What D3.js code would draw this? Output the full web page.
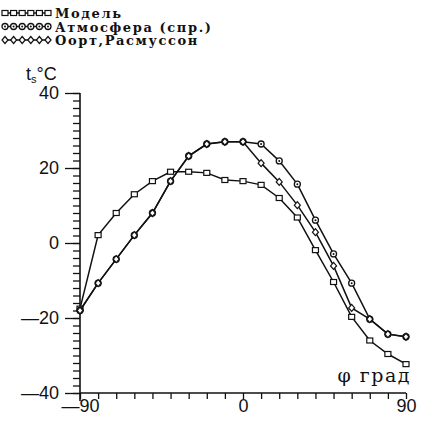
<!DOCTYPE html>
<html>
<meta charset="utf-8">
<style>
body { margin: 0; background: #fff; }
svg { display: block; }
.tick text { font: 18px "Liberation Sans", sans-serif; fill: #111; }
.leg { font: bold 13px "DejaVu Serif", serif; letter-spacing: 1.6px; fill: #111; }
</style>
<body>
<script src="https://cdn.jsdelivr.net/npm/d3@7"></script>
<script>

/* latitude grid, every 10 degrees */
var lats = [-90, -80, -70, -60, -50, -40, -30, -20, -10, 0, 10, 20, 30, 40, 50, 60, 70, 80, 90];

var model = [-17.5, 2.1, 8, 13, 16.5, 19, 19, 18.7, 16.8, 16.5, 15.5, 12, 6.8, -1.9, -10.4, -19.7, -26, -29.6, -32.3];
var atmos = [-18, -10.7, -4.3, 2.1, 8, 16.5, 23.2, 26.4, 27, 27, 26.4, 21.9, 15.7, 6.1, -2.9, -10.7, -20.3, -24.3, -25];
var oort  = [-18, -10.7, -4.3, 2.1, 8, 16.5, 23.2, 26.4, 27, 27, 21.3, 16.3, 10.1, 2.9, -6.1, -17.3, -20.3, -24.3, -25];

var seriesNames = ['Модель', 'Атмосфера (спр.)', 'Оорт,Расмуссон'];
var yMajor = [-40, -20, 0, 20, 40];
var xLabels = [-90, 0, 90];

var width = 422, height = 421;

var svg = d3.select("body").append("svg")
    .attr("width", width)
    .attr("height", height);

var x = d3.scaleLinear().domain([-90, 90]).range([80, 406]);
var y = d3.scaleLinear().domain([-40, 40]).range([393, 93]);

function dash(v) { return v < 0 ? '\u2014' + Math.abs(v) : '' + v; }

// y axis: minor ticks every 2, long ticks with labels
svg.append("g")
    .attr("transform", "translate(80,0)")
    .call(d3.axisLeft(y).tickValues(d3.range(-40, 41, 2)).tickSize(7).tickFormat(""))
    .call(function(g){ g.select(".domain").remove(); });
svg.append("g")
    .attr("transform", "translate(80,0)")
    .call(d3.axisLeft(y).tickValues(yMajor).tickSize(15).tickPadding(6).tickFormat(dash))
    .call(function(g){ g.select(".domain").remove(); });

// x axis: ticks every 10 downward
svg.append("g")
    .attr("transform", "translate(0,393)")
    .call(d3.axisBottom(x).tickValues(lats).tickSize(6).tickFormat(""))
    .call(function(g){ g.select(".domain").remove(); });
svg.append("g")
    .attr("transform", "translate(0,393)")
    .call(d3.axisBottom(x).tickValues(xLabels).tickSize(0).tickPadding(6).tickFormat(dash))
    .call(function(g){ g.select(".domain").remove(); });

svg.selectAll(".tick line").attr("stroke", "#111").attr("stroke-width", 1.3);

// axis lines
svg.append("line").attr("x1", 80).attr("x2", 80).attr("y1", y(40)).attr("y2", y(-40) + 8)
    .attr("stroke", "#111").attr("stroke-width", 1.6);
svg.append("line").attr("x1", 80).attr("x2", x(90)).attr("y1", 393).attr("y2", 393)
    .attr("stroke", "#111").attr("stroke-width", 1.6);

// axis titles
var yt = svg.append("text").attr("x", 26).attr("y", 80)
    .style("font", "18px 'Liberation Sans', sans-serif").attr("fill", "#111");
yt.append("tspan").text("t");
yt.append("tspan").attr("dy", 3).style("font-size", "11px").text("s");
yt.append("tspan").attr("dy", -3).text("°C");

svg.append("text").attr("x", 411).attr("y", 382).attr("text-anchor", "end")
    .style("font", "19px 'DejaVu Serif', serif").style("letter-spacing", "1.5px")
    .attr("fill", "#111")
    .text("φ град");

var line = d3.line()
    .x(function(d){ return x(d[0]); })
    .y(function(d){ return y(d[1]); });

function marker(g, kind, cx, cy) {
    if (kind == 0) {
        g.append("rect").attr("x", cx - 3).attr("y", cy - 2.5).attr("width", 6).attr("height", 5)
            .attr("fill", "#fff").attr("stroke", "#111").attr("stroke-width", 1.2);
    } else if (kind == 1) {
        g.append("circle").attr("cx", cx).attr("cy", cy).attr("r", 3)
            .attr("fill", "#fff").attr("stroke", "#111").attr("stroke-width", 1.3);
        g.append("circle").attr("cx", cx).attr("cy", cy).attr("r", 1).attr("fill", "#111");
    } else {
        g.append("path").attr("d", "M" + cx + "," + (cy - 3.5) + "L" + (cx + 3) + "," + cy +
            "L" + cx + "," + (cy + 3.5) + "L" + (cx - 3) + "," + cy + "Z")
            .attr("fill", "#fff").attr("stroke", "#111").attr("stroke-width", 1.2);
    }
}

var allSeries = [model, atmos, oort];
allSeries.forEach(function(vals, k) {
    var pts = lats.map(function(l, i){ return [l, vals[i]]; });
    var g = svg.append("g");
    g.append("path").attr("d", line(pts)).attr("fill", "none")
        .attr("stroke", "#111").attr("stroke-width", 1.5);
    pts.forEach(function(p){ marker(g, k, x(p[0]), y(p[1])); });
});

// legend
seriesNames.forEach(function(name, k) {
    var ly = 13 + k * 13.5;
    var g = svg.append("g");
    g.append("line").attr("x1", 4).attr("x2", 48).attr("y1", ly).attr("y2", ly)
        .attr("stroke", "#111").attr("stroke-width", 1.3);
    d3.range(6).forEach(function(i){ marker(g, k, 5 + i * 8.6, ly); });
    g.append("text").attr("class", "leg").attr("x", 55).attr("y", ly + 5).text(name);
});

</script>
</body>
</html>
